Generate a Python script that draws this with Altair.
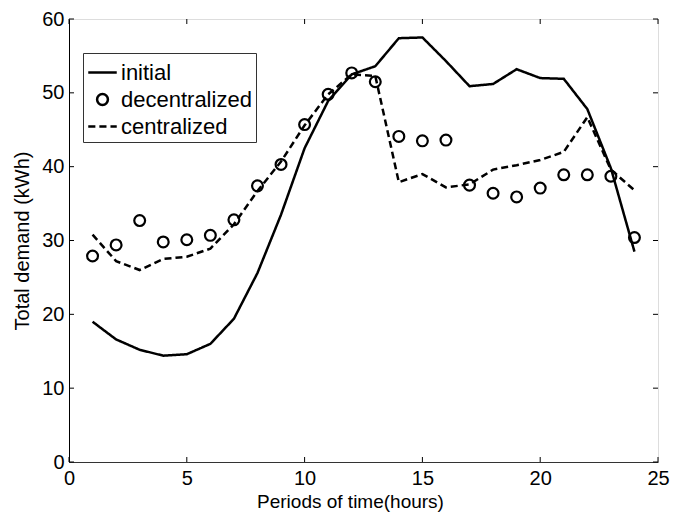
import altair as alt
import pandas as pd

hours = list(range(1, 25))
initial = [19.0, 16.6, 15.2, 14.4, 14.6, 16.0, 19.4, 25.6, 33.5, 42.5, 48.9, 52.5,
           53.6, 57.4, 57.5, 54.3, 50.9, 51.2, 53.2, 52.0, 51.9, 47.8, 39.8, 28.5]
decentralized = [27.9, 29.4, 32.7, 29.8, 30.1, 30.7, 32.8, 37.4, 40.3, 45.7, 49.8, 52.7,
                 51.5, 44.1, 43.5, 43.6, 37.5, 36.4, 35.9, 37.1, 38.9, 38.9, 38.7, 30.4]
centralized = [30.8, 27.2, 26.0, 27.5, 27.8, 28.9, 32.2, 36.7, 40.7, 45.6, 49.8, 52.5,
               52.3, 37.9, 39.0, 37.2, 37.6, 39.6, 40.2, 40.9, 42.0, 46.7, 39.6, 36.8]
series_names = ["initial", "decentralized", "centralized"]
x_ticks = [0, 5, 10, 15, 20, 25]
y_ticks = [0, 10, 20, 30, 40, 50, 60]

W, H = 589, 443
FONT = "Liberation Sans"

rows = []
for name, vals in zip(series_names, [initial, decentralized, centralized]):
    for h, v in zip(hours, vals):
        rows.append({"hour": h, "demand": v, "series": name})
df = pd.DataFrame(rows)

line_path = "M-1,0L1,0"
dash_path = "M-1,0L-0.5,0M-0.22,0L0.28,0M0.56,0L1,0"
circle_path = "M-0.38,0A0.38,0.38 0 1,1 0.38,0A0.38,0.38 0 1,1 -0.38,0Z"

xscale = alt.Scale(domain=[0, 25], nice=False)
yscale = alt.Scale(domain=[0, 60], nice=False)

xaxis = alt.Axis(values=x_ticks, title="Periods of time(hours)", labelFontSize=20,
                 titleFontSize=19, titleFontWeight="normal", labelFont=FONT, titleFont=FONT,
                 tickSize=0, labelPadding=6, grid=False, domainColor="#333",
                 labelColor="black", titleColor="black", titleX=281, titleY=39,
                 titleAlign="center", titleBaseline="middle", labelFlush=False)
yaxis = alt.Axis(values=y_ticks, title="Total demand (kWh)", labelFontSize=20,
                 titleFontSize=20, titleFontWeight="normal", labelFont=FONT, titleFont=FONT,
                 tickSize=0, labelPadding=5, grid=False, domainColor="black",
                 labelColor="black", titleColor="black", titleX=-47, titleY=H / 2,
                 titleAngle=-90, titleAlign="center", titleBaseline="middle")

base = alt.Chart(df)

lines = base.transform_filter(
    alt.FieldOneOfPredicate(field="series", oneOf=["initial", "centralized"])
).mark_line(color="black", strokeWidth=2.5).encode(
    x=alt.X("hour:Q", scale=xscale, axis=xaxis),
    y=alt.Y("demand:Q", scale=yscale, axis=yaxis),
    strokeDash=alt.StrokeDash("series:N",
                              scale=alt.Scale(domain=["initial", "centralized"],
                                              range=[[1, 0], [7, 4]]),
                              legend=None),
)

points = base.transform_filter(
    alt.datum.series == "decentralized"
).mark_point(filled=False, size=812, strokeWidth=2.2, color="black", opacity=1).encode(
    x=alt.X("hour:Q", scale=xscale),
    y=alt.Y("demand:Q", scale=yscale),
    shape=alt.Shape("series:N",
                    scale=alt.Scale(domain=series_names,
                                    range=[line_path, circle_path, dash_path]),
                    legend=alt.Legend(orient="none", legendX=14, legendY=34, title=None,
                                      strokeColor="#333", fillColor="white", padding=4,
                                      labelFontSize=22, labelFont=FONT, labelColor="black",
                                      symbolSize=812, symbolStrokeWidth=2.5,
                                      symbolStrokeColor="black", symbolFillColor="transparent",
                                      rowPadding=0, labelOffset=3, labelLimit=300)),
)

tick_x = pd.DataFrame({"t": x_ticks})
tick_y = pd.DataFrame({"t": y_ticks})

xt_bottom = alt.Chart(tick_x).mark_rule(color="black", strokeWidth=1).encode(
    x=alt.X("t:Q", scale=xscale), y=alt.value(H), y2=alt.value(H - 5))
xt_top = alt.Chart(tick_x).mark_rule(color="black", strokeWidth=1).encode(
    x=alt.X("t:Q", scale=xscale), y=alt.value(0), y2=alt.value(5))
yt_left = alt.Chart(tick_y).mark_rule(color="black", strokeWidth=1).encode(
    y=alt.Y("t:Q", scale=yscale), x=alt.value(0), x2=alt.value(5))
yt_right = alt.Chart(tick_y).mark_rule(color="black", strokeWidth=1).encode(
    y=alt.Y("t:Q", scale=yscale), x=alt.value(W), x2=alt.value(W - 5))

chart = alt.layer(lines, points, xt_bottom, xt_top, yt_left, yt_right).properties(
    width=W, height=H,
    autosize=alt.AutoSizeParams(type="none"),
    padding={"left": 61, "top": 11, "right": 20, "bottom": 54},
).configure_view(stroke="#555", strokeWidth=1).configure(background="white")

chart.save("out.html", embed_options={"renderer": "svg", "actions": False})
